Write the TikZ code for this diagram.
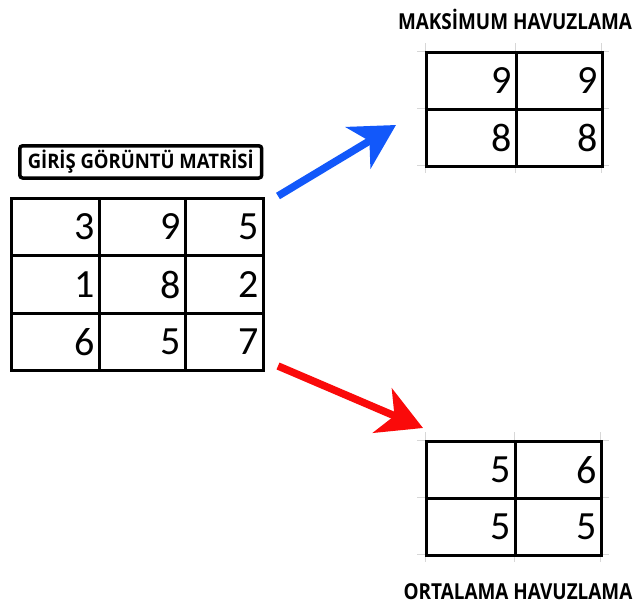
\documentclass[tikz,border=0pt]{standalone}
\usepackage{fontspec}
\usepackage{graphicx}
\setmainfont{Carlito}
\newfontfamily\titlefont{Open Sans}
\usetikzlibrary{arrows.meta}
\definecolor{arrowblue}{RGB}{18,88,250}
\definecolor{arrowred}{RGB}{250,10,10}
\definecolor{sheetgrid}{RGB}{215,215,215}
\newcommand{\narrowtext}[2]{\scalebox{#1}[1]{#2}}
\tikzset{
  x=1pt, y=-1pt,
  cell/.style={draw=black, line width=3pt, anchor=north west, inner xsep=5pt, inner ysep=0pt,
    font=\fontsize{40}{40}\selectfont, align=right},
  heading/.style={font=\titlefont\bfseries\fontsize{22}{22}\selectfont, inner sep=0pt},
  framedheading/.style={heading, font=\titlefont\bfseries\fontsize{20}{20}\selectfont,
    draw=black, line width=3.5pt, rounded corners=3pt, inner xsep=8pt, inner ysep=4.5pt},
  faint/.style={draw=sheetgrid, line width=0.8pt},
  pool/.style={line width=7.5pt, -{Stealth[length=44pt, width=48pt, inset=13pt]}},
}
\newcommand{\cellnode}[6]{% name, x, y, width, height, text
  \node[cell, minimum width=#4pt, minimum height=#5pt, text width=#4pt-10pt] (#1) at (#2,#3) {#6};}
\begin{document}
\begin{tikzpicture}
\useasboundingbox (0,0) rectangle (633,608);

% input image matrix
\node[framedheading, anchor=north west] (intitle) at (18,144) {\narrowtext{0.925}{GİRİŞ GÖRÜNTÜ MATRİSİ}};
\cellnode{i11}{10}{197}{88}{57}{3}
\cellnode{i12}{98}{197}{86}{57}{9}
\cellnode{i13}{184}{197}{78}{57}{5}
\cellnode{i21}{10}{254}{88}{58}{1}
\cellnode{i22}{98}{254}{86}{58}{8}
\cellnode{i23}{184}{254}{78}{58}{2}
\cellnode{i31}{10}{312}{88}{57}{6}
\cellnode{i32}{98}{312}{86}{57}{5}
\cellnode{i33}{184}{312}{78}{57}{7}

% max pooling result
\node[heading] (maxtitle) at (515,19) {\narrowtext{0.86}{MAKSİMUM HAVUZLAMA}};
\draw[faint] (417,51) -- (609,51) (417,108) -- (609,108) (417,165) -- (609,165)
             (425,43) -- (425,173) (515,43) -- (515,173) (601,43) -- (601,173);
\cellnode{m11}{425}{51}{90}{57}{9}
\cellnode{m12}{515}{51}{86}{57}{9}
\cellnode{m21}{425}{108}{90}{57}{8}
\cellnode{m22}{515}{108}{86}{57}{8}

% average pooling result
\draw[faint] (417,440) -- (609,440) (417,497) -- (609,497) (417,554) -- (609,554)
             (425,432) -- (425,562) (514,432) -- (514,562) (600,432) -- (600,562);
\cellnode{a11}{425}{440}{89}{57}{5}
\cellnode{a12}{514}{440}{86}{57}{6}
\cellnode{a21}{425}{497}{89}{57}{5}
\cellnode{a22}{514}{497}{86}{57}{5}
\node[heading] (avgtitle) at (518,592) {\narrowtext{0.86}{ORTALAMA HAVUZLAMA}};

% pooling arrows
\coordinate (blueStart) at (278,196);
\coordinate (blueTip) at (396,125);
\coordinate (redStart) at (278,366);
\coordinate (redTip) at (423,428);
\draw[pool, arrowblue] (blueStart) -- (blueTip);
\draw[pool, arrowred] (redStart) -- (redTip);
\end{tikzpicture}
\end{document}
